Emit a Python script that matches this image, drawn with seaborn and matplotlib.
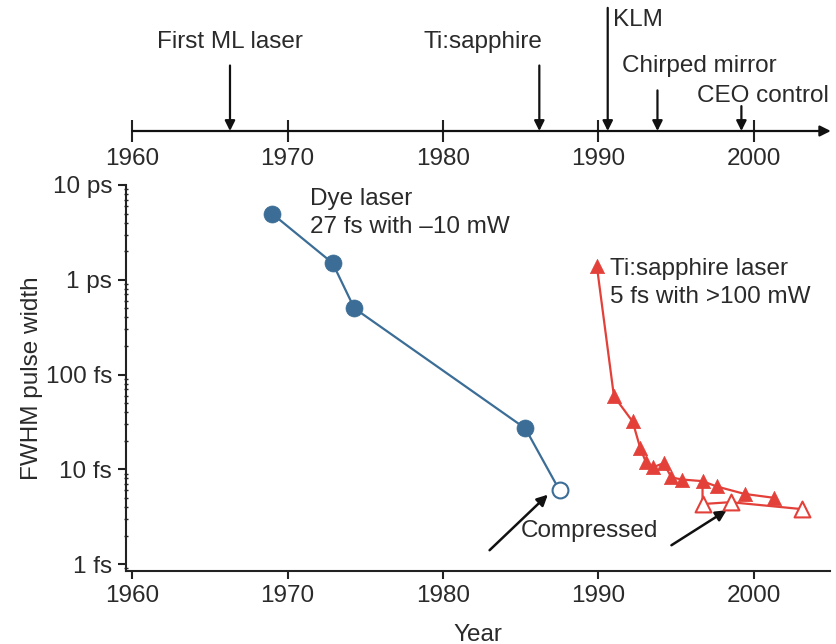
import matplotlib
matplotlib.use("Agg")
import matplotlib.pyplot as plt
import seaborn as sns
import numpy as np
import pandas as pd

# ---------------- data ----------------
dye_year = [1969.0, 1972.9, 1974.3, 1985.3]
dye_fs = [5000, 1500, 500, 27]
dye_comp_year = [1987.5]
dye_comp_fs = [6.0]

ti_year = [1989.9, 1991.0, 1992.2, 1992.7, 1993.05, 1993.5, 1994.2, 1994.7,
           1995.4, 1996.7, 1997.6, 1999.4, 2001.3]
ti_fs = [1400, 59, 32, 16.6, 12, 10.5, 11.6, 8.2, 7.8, 7.5, 6.6, 5.5, 5.0]
ti_comp_year = [1996.7, 1998.5, 2003.1]
ti_comp_fs = [4.3, 4.5, 3.8]

year_ticks = [1960, 1970, 1980, 1990, 2000]
y_ticks = [1, 10, 100, 1000, 10000]
y_tick_labels = ["1 fs", "10 fs", "100 fs", "1 ps", "10 ps"]

events = ["First ML laser", "Ti:sapphire", "KLM", "Chirped mirror", "CEO control"]
event_year = [1966.3, 1986.2, 1990.6, 1993.8, 1999.2]

# ---------------- style ----------------
sns.set_style("ticks")
plt.rcParams["font.family"] = ["Liberation Sans", "DejaVu Sans"]
TXT = "#2a2a2a"
BLUE = "#3b6d96"
RED = "#e3403a"
FS = 17.5

W, H = 836, 644
fig = plt.figure(figsize=(W / 100, H / 100), dpi=100)

xl = (1959.61, 2004.9)
left = 126 / W
width = (830 - 126) / W

# ---------------- main axes ----------------
ax = fig.add_axes([left, 1 - 571 / H, width, (571 - 185) / H])
ax.set_yscale("log")
ax.set_xlim(*xl)
ax.set_ylim(0.845, 10000)

dye_df = pd.DataFrame({"year": dye_year, "fs": dye_fs})
ti_df = pd.DataFrame({"year": ti_year, "fs": ti_fs})

# connector lines
sns.lineplot(x=dye_year + dye_comp_year, y=dye_fs + dye_comp_fs, ax=ax,
             color=BLUE, lw=1.6, sort=False, estimator=None)
sns.lineplot(x=ti_year, y=ti_fs, ax=ax, color=RED, lw=1.6, sort=False, estimator=None)
sns.lineplot(x=[ti_year[9]] + ti_comp_year, y=[ti_fs[9]] + ti_comp_fs, ax=ax,
             color=RED, lw=1.6, sort=False, estimator=None)

# markers
sns.scatterplot(data=dye_df, x="year", y="fs", ax=ax, color=BLUE, s=150,
                marker="o", edgecolor=BLUE, linewidth=0.5, zorder=5)
sns.scatterplot(x=dye_comp_year, y=dye_comp_fs, ax=ax, s=130, marker="o",
                facecolor="white", edgecolor=BLUE, linewidth=1.5, zorder=5)
sns.scatterplot(data=ti_df, x="year", y="fs", ax=ax, color=RED, s=105,
                marker="^", edgecolor=RED, linewidth=0.5, zorder=5)
sns.scatterplot(x=ti_comp_year, y=ti_comp_fs, ax=ax, s=130, marker="^",
                facecolor="white", edgecolor=RED, linewidth=1.5, zorder=5)

for s in ["top", "right"]:
    ax.spines[s].set_visible(False)
for s in ["left", "bottom"]:
    ax.spines[s].set_linewidth(1.5)
    ax.spines[s].set_color("#222222")
ax.spines["left"].set_bounds(0.845, 10000)

ax.set_xticks(year_ticks)
ax.set_xticklabels([str(y) for y in year_ticks])
ax.set_yticks(y_ticks)
ax.set_yticklabels(y_tick_labels)
ax.yaxis.set_minor_locator(matplotlib.ticker.LogLocator(base=10, subs=np.arange(2, 10)))
ax.yaxis.set_minor_formatter(matplotlib.ticker.NullFormatter())
ax.tick_params(axis="both", which="major", length=6, width=1.5, color="#222222",
               labelsize=FS, labelcolor=TXT, pad=4, direction="out")
ax.tick_params(axis="y", which="minor", length=3, width=1.0, color="#222222",
               direction="inout")
ax.set_xlabel("Year", fontsize=FS, color=TXT, labelpad=12)
ax.set_ylabel("FWHM pulse width", fontsize=FS, color=TXT, labelpad=2)

ax.text(1971.45, 7100, "Dye laser", fontsize=FS, color=TXT, ha="left", va="center")
ax.text(1971.45, 3600, "27 fs with \u201310 mW", fontsize=FS, color=TXT, ha="left", va="center")
ax.text(1990.74, 1300, "Ti:sapphire laser", fontsize=FS, color=TXT, ha="left", va="center")
ax.text(1990.74, 660, "5 fs with >100 mW", fontsize=FS, color=TXT, ha="left", va="center")
ax.text(1989.45, 2.25, "Compressed", fontsize=FS, color=TXT, ha="center", va="center")

arrow_kw = dict(arrowstyle="-|>", color="#111111", lw=1.8, mutation_scale=16,
                shrinkA=0, shrinkB=0)
ax.annotate("", xy=(1986.75, 5.4), xytext=(1983.0, 1.40), arrowprops=arrow_kw)
ax.annotate("", xy=(1998.25, 3.7), xytext=(1994.7, 1.58), arrowprops=arrow_kw)

# ---------------- timeline axes ----------------
ax2 = fig.add_axes([left, 1 - 131 / H, width, 131 / H])
ax2.set_xlim(*xl)
ax2.set_ylim(0, 1)
for s in ["top", "right", "left", "bottom"]:
    ax2.spines[s].set_visible(False)
ax2.set_yticks([])
ax2.set_xticks(year_ticks)
ax2.set_xticklabels([str(y) for y in year_ticks])
ax2.tick_params(axis="x", length=16, width=1.5, direction="inout", color="#222222",
                labelsize=FS, labelcolor=TXT, pad=4)
ax2.patch.set_alpha(0)
ax2.annotate("", xy=(2004.95, 0), xytext=(1960, 0),
             arrowprops=dict(arrowstyle="-|>", color="#111111", lw=1.6,
                             mutation_scale=16, shrinkA=0, shrinkB=0),
             annotation_clip=False)

ev_kw = dict(arrowstyle="-|>", color="#111111", lw=1.6, mutation_scale=15,
             shrinkA=0, shrinkB=0)
# First ML laser
ax2.annotate("", xy=(event_year[0], 0), xytext=(event_year[0], 0.50), arrowprops=ev_kw)
ax2.text(event_year[0], 0.68, events[0], fontsize=FS, color=TXT, ha="center", va="center")
# Ti:sapphire
ax2.annotate("", xy=(event_year[1], 0), xytext=(event_year[1], 0.50), arrowprops=ev_kw)
ax2.text(1982.6, 0.68, events[1], fontsize=FS, color=TXT, ha="center", va="center")
# KLM
ax2.annotate("", xy=(event_year[2], 0), xytext=(event_year[2], 0.94), arrowprops=ev_kw)
ax2.text(1990.95, 0.85, events[2], fontsize=FS, color=TXT, ha="left", va="center")
# Chirped mirror
ax2.annotate("", xy=(event_year[3], 0), xytext=(event_year[3], 0.31), arrowprops=ev_kw)
ax2.text(1996.5, 0.495, events[3], fontsize=FS, color=TXT, ha="center", va="center")
# CEO control
ax2.annotate("", xy=(event_year[4], 0), xytext=(event_year[4], 0.19), arrowprops=ev_kw)
ax2.text(2000.6, 0.265, events[4], fontsize=FS, color=TXT, ha="center", va="center")

fig.savefig("out.png", dpi=100)
